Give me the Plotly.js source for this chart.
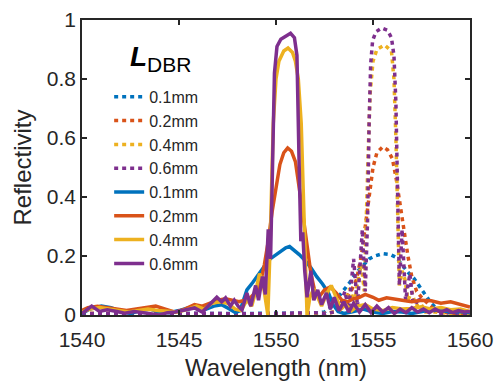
<!DOCTYPE html>
<html>
<head>
<meta charset="utf-8">
<script src="https://cdn.plot.ly/plotly-3.0.1.min.js"></script>
<style>html,body{margin:0;padding:0;background:#fff;}#chart{width:497px;height:381px;}</style>
</head>
<body>
<div id="chart"></div>
<script>
// ---- Data ----
var labels = ['0.1mm', '0.2mm', '0.4mm', '0.6mm'];
var colors = ['#0072BD', '#D95319', '#EDB120', '#7E2F8E'];

// Dotted curves (peak near 1555.5 nm)
var dotBlueX = [1540, 1545, 1550, 1552, 1552.5, 1552.9, 1553.2, 1553.5, 1553.8, 1554.1, 1554.45, 1554.8, 1555.1, 1555.5, 1555.9, 1556.2, 1556.5, 1556.8, 1557.1, 1557.4, 1557.7, 1558.0, 1558.3, 1558.7, 1559.2, 1560];
var dotBlueY = [0.004, 0.005, 0.004, 0.006, 0.01, 0.03, 0.06, 0.085, 0.11, 0.14, 0.165, 0.19, 0.2, 0.208, 0.205, 0.195, 0.17, 0.145, 0.125, 0.095, 0.065, 0.04, 0.02, 0.01, 0.005, 0.005];

var dotOrangeX = [1540, 1544, 1548, 1551, 1552, 1552.5, 1553.0, 1553.3, 1553.6, 1553.9, 1554.15, 1554.4, 1554.6, 1554.8, 1555.0, 1555.2, 1555.5, 1555.75, 1556.0, 1556.2, 1556.4, 1556.55, 1556.8, 1557.0, 1557.25, 1557.5, 1557.8, 1558.2, 1558.6, 1559.0, 1560];
var dotOrangeY = [0.005, 0.004, 0.005, 0.005, 0.003, 0.005, 0.01, 0.03, 0.06, 0.085, 0.12, 0.2, 0.3, 0.41, 0.5, 0.55, 0.57, 0.56, 0.53, 0.46, 0.37, 0.3, 0.2, 0.13, 0.08, 0.06, 0.04, 0.015, 0.01, 0.005, 0.005];

var dotYellowX = [1540, 1544, 1548, 1551, 1552.5, 1553.0, 1553.3, 1553.55, 1553.8, 1554.05, 1554.25, 1554.4, 1554.55, 1554.65, 1554.75, 1554.85, 1555.0, 1555.2, 1555.6, 1555.95, 1556.08, 1556.18, 1556.27, 1556.36, 1556.5, 1556.65, 1556.8, 1557.0, 1557.2, 1557.45, 1557.7, 1558.2, 1559, 1560];
var dotYellowY = [0.005, 0.004, 0.005, 0.004, 0.005, 0.01, 0.02, 0.05, 0.09, 0.04, 0.13, 0.17, 0.08, 0.35, 0.55, 0.75, 0.86, 0.9, 0.915, 0.895, 0.8, 0.6, 0.35, 0.1, 0.15, 0.12, 0.05, 0.08, 0.03, 0.04, 0.01, 0.01, 0.005, 0.005];

var dotPurpleX = [1540, 1542, 1544, 1546, 1548, 1550, 1552, 1552.5, 1553.0, 1553.3, 1553.55, 1553.75, 1554.0, 1554.2, 1554.45, 1554.6, 1554.72, 1554.8, 1554.88, 1554.98, 1555.15, 1555.45, 1555.75, 1555.95, 1556.08, 1556.18, 1556.27, 1556.36, 1556.5, 1556.68, 1556.9, 1557.1, 1557.35, 1557.6, 1558.0, 1558.5, 1559, 1559.5, 1560];
var dotPurpleY = [0.005, 0.005, 0.003, 0.006, 0.004, 0.005, 0.008, 0.005, 0.01, 0.03, 0.08, 0.02, 0.19, 0.03, 0.29, 0.08, 0.32, 0.65, 0.85, 0.93, 0.96, 0.973, 0.965, 0.94, 0.88, 0.72, 0.42, 0.1, 0.29, 0.05, 0.14, 0.02, 0.06, 0.01, 0.02, 0.005, 0.01, 0.005, 0.005];

// Solid curves (peak near 1550.6 nm)
var solBlueX = [1540.0, 1540.4, 1541.0, 1541.5, 1542.0, 1542.5, 1543.0, 1543.5, 1544.0, 1544.5, 1545.0, 1545.5, 1546.0, 1546.4, 1546.8, 1547.2, 1547.6, 1547.9, 1548.15, 1548.5, 1548.8, 1549.1, 1549.4, 1549.7, 1550.0, 1550.3, 1550.5, 1550.7, 1550.9, 1551.2, 1551.5, 1551.8, 1552.1, 1552.4, 1552.7, 1552.95, 1553.2, 1553.5, 1554.0, 1554.5, 1555.0, 1555.5, 1556.0, 1556.5, 1557.0, 1557.5, 1558.0, 1558.5, 1559.0, 1559.5, 1560.0];
var solBlueY = [0.005, 0.02, 0.03, 0.025, 0.012, 0.005, 0.015, 0.02, 0.01, 0.008, 0.015, 0.025, 0.03, 0.02, 0.03, 0.035, 0.02, 0.008, 0.015, 0.085, 0.11, 0.14, 0.165, 0.19, 0.205, 0.22, 0.228, 0.232, 0.222, 0.205, 0.185, 0.16, 0.13, 0.105, 0.075, 0.035, 0.012, 0.005, 0.012, 0.02, 0.01, 0.005, 0.012, 0.01, 0.005, 0.012, 0.018, 0.015, 0.01, 0.012, 0.008];

var solOrangeX = [1540.0, 1540.3, 1540.8, 1541.3, 1541.8, 1542.3, 1542.8, 1543.3, 1543.8, 1544.3, 1544.8, 1545.3, 1545.8, 1546.2, 1546.6, 1547.0, 1547.4, 1547.8, 1548.1, 1548.4, 1548.7, 1549.0, 1549.2, 1549.4, 1549.6, 1549.8, 1550.0, 1550.2, 1550.4, 1550.6, 1550.8, 1551.0, 1551.2, 1551.4, 1551.6, 1551.8, 1552.0, 1552.2, 1552.5, 1552.8, 1553.1, 1553.4, 1553.7, 1554.0, 1554.3, 1554.6, 1555.0, 1555.3, 1555.7, 1556.1, 1556.5, 1557.0, 1557.5, 1558.0, 1558.5, 1559.0, 1559.5, 1560.0];
var solOrangeY = [0.015, 0.025, 0.03, 0.025, 0.02, 0.015, 0.02, 0.025, 0.03, 0.02, 0.01, 0.02, 0.035, 0.03, 0.04, 0.05, 0.055, 0.05, 0.045, 0.05, 0.06, 0.08, 0.11, 0.17, 0.25, 0.35, 0.44, 0.51, 0.55, 0.566, 0.555, 0.52, 0.43, 0.33, 0.23, 0.14, 0.08, 0.06, 0.085, 0.095, 0.075, 0.05, 0.045, 0.055, 0.06, 0.07, 0.06, 0.05, 0.058, 0.055, 0.05, 0.045, 0.05, 0.048, 0.04, 0.045, 0.035, 0.027];

var solYellowX = [1540.0, 1540.4, 1540.9, 1541.4, 1541.9, 1542.4, 1542.9, 1543.4, 1543.9, 1544.4, 1544.9, 1545.4, 1545.9, 1546.3, 1546.7, 1547.1, 1547.5, 1547.9, 1548.2, 1548.5, 1548.75, 1548.95, 1549.15, 1549.3, 1549.45, 1549.58, 1549.68, 1549.78, 1549.86, 1550.0, 1550.15, 1550.4, 1550.62, 1550.85, 1551.0, 1551.15, 1551.3, 1551.4, 1551.5, 1551.6, 1551.75, 1551.95, 1552.15, 1552.35, 1552.6, 1552.85, 1553.1, 1553.35, 1553.6, 1553.9, 1554.2, 1554.6, 1555.0, 1555.5, 1556.0, 1556.5, 1557.0, 1557.5, 1558.0, 1558.5, 1559.0, 1559.5, 1560.0];
var solYellowY = [0.01, 0.02, 0.025, 0.02, 0.015, 0.01, 0.015, 0.02, 0.015, 0.012, 0.01, 0.018, 0.03, 0.02, 0.04, 0.045, 0.04, 0.02, 0.015, 0.05, 0.03, 0.08, 0.14, 0.12, 0.05, 0.0, 0.2, 0.43, 0.65, 0.8, 0.86, 0.895, 0.905, 0.89, 0.86, 0.8, 0.65, 0.43, 0.2, 0.0, 0.06, 0.09, 0.06, 0.03, 0.07, 0.1, 0.06, 0.02, 0.035, 0.015, 0.03, 0.035, 0.02, 0.015, 0.025, 0.02, 0.022, 0.028, 0.02, 0.025, 0.018, 0.02, 0.012];

var solPurpleX = [1540.0, 1540.2, 1540.5, 1540.9, 1541.3, 1541.8, 1542.2, 1542.7, 1543.2, 1543.7, 1544.0, 1544.4, 1544.8, 1545.3, 1545.8, 1546.2, 1546.55, 1546.95, 1547.2, 1547.4, 1547.65, 1547.85, 1548.05, 1548.25, 1548.5, 1548.7, 1548.95, 1549.1, 1549.3, 1549.45, 1549.6, 1549.72, 1549.82, 1549.92, 1550.05, 1550.25, 1550.5, 1550.75, 1550.95, 1551.08, 1551.18, 1551.28, 1551.38, 1551.48, 1551.6, 1551.8, 1551.95, 1552.15, 1552.35, 1552.6, 1552.8, 1553.0, 1553.25, 1553.5, 1553.75, 1554.0, 1554.3, 1554.6, 1554.9, 1555.2, 1555.5, 1555.8, 1556.1, 1556.4, 1556.7, 1557.0, 1557.3, 1557.6, 1557.9, 1558.2, 1558.5, 1558.8, 1559.1, 1559.4, 1559.7, 1560.0];
var solPurpleY = [0.005, 0.015, 0.03, 0.012, 0.018, 0.012, 0.006, 0.012, 0.008, 0.003, 0.0, 0.008, 0.01, 0.017, 0.024, 0.01, 0.034, 0.06, 0.045, 0.058, 0.03, 0.05, 0.03, 0.017, 0.075, 0.03, 0.1, 0.05, 0.13, 0.07, 0.29, 0.19, 0.5, 0.82, 0.91, 0.935, 0.945, 0.955, 0.94, 0.88, 0.55, 0.25, 0.28, 0.15, 0.06, 0.15, 0.05, 0.085, 0.035, 0.075, 0.02, 0.06, 0.015, 0.045, 0.01, 0.04, 0.01, 0.035, 0.008, 0.03, 0.01, 0.025, 0.005, 0.02, 0.008, 0.025, 0.01, 0.02, 0.008, 0.02, 0.01, 0.018, 0.008, 0.015, 0.01, 0.012];

var xTicks = [1540, 1545, 1550, 1555, 1560];
var yTicks = [0, 0.2, 0.4, 0.6, 0.8, 1];
var legendTitle = '<b><i>L</i></b><sub><span style="font-size:21px">DBR</span></sub>';

// ---- Traces ----
var dotted = [[dotBlueX, dotBlueY], [dotOrangeX, dotOrangeY], [dotYellowX, dotYellowY], [dotPurpleX, dotPurpleY]];
var solid = [[solBlueX, solBlueY], [solOrangeX, solOrangeY], [solYellowX, solYellowY], [solPurpleX, solPurpleY]];
var traces = [];
dotted.forEach(function (d, i) {
  traces.push({x: d[0], y: d[1], type: 'scatter', mode: 'lines', name: labels[i],
    line: {color: colors[i], width: 3.5, dash: '4px,4px'}});
});
solid.forEach(function (d, i) {
  traces.push({x: d[0], y: d[1], type: 'scatter', mode: 'lines', name: labels[i],
    line: {color: colors[i], width: 3.5}});
});

var font = 'Liberation Sans, Arial, Helvetica, sans-serif';
var axisColor = '#262626';
var layout = {
  width: 497, height: 381,
  margin: {l: 82, r: 27, t: 20, b: 66},
  paper_bgcolor: '#fff', plot_bgcolor: '#fff',
  font: {family: font, color: axisColor},
  showlegend: true,
  legend: {
    x: 0.07, y: 0.797, xanchor: 'left', yanchor: 'top',
    bgcolor: 'rgba(0,0,0,0)', borderwidth: 0,
    font: {family: font, size: 16, color: axisColor},
    tracegroupgap: 0
  },
  annotations: [{
    xref: 'paper', yref: 'paper', x: 0.118, y: 0.87, xanchor: 'left', yanchor: 'middle',
    text: legendTitle, showarrow: false,
    font: {family: font, size: 28, color: '#000'}
  }],
  xaxis: {
    range: [1540, 1560], tickvals: xTicks, ticktext: xTicks.map(String),
    ticks: 'inside', ticklen: 5, tickwidth: 1.5, tickcolor: axisColor,
    showline: true, linecolor: axisColor, linewidth: 1.8, mirror: 'ticks',
    showgrid: false, zeroline: false, ticklabelstandoff: 5,
    tickfont: {family: font, size: 21, color: axisColor},
    title: {text: 'Wavelength (nm)', font: {family: font, size: 24, color: axisColor}, standoff: 19}
  },
  yaxis: {
    range: [0, 1], tickvals: yTicks, ticktext: yTicks.map(String),
    ticks: 'inside', ticklen: 5, tickwidth: 1.5, tickcolor: axisColor,
    showline: true, linecolor: axisColor, linewidth: 1.8, mirror: 'ticks',
    showgrid: false, zeroline: false,
    tickfont: {family: font, size: 21, color: axisColor},
    title: {text: 'Reflectivity', font: {family: font, size: 24, color: axisColor}, standoff: 8}
  }
};

Plotly.newPlot('chart', traces, layout, {staticPlot: true});
</script>
</body>
</html>
